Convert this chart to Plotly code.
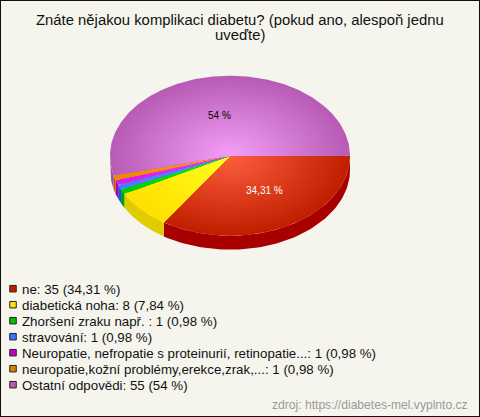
import numpy as np
import plotly.graph_objects as go

title_lines = ["Znáte nějakou komplikaci diabetu? (pokud ano, alespoň jednu", "uveďte)"]
categories = ["ne", "diabetická noha", "Zhoršení zraku např. ", "stravování",
              "Neuropatie, nefropatie s proteinurií, retinopatie...",
              "neuropatie,kožní problémy,erekce,zrak,...", "Ostatní odpovědi"]
counts = [35, 8, 1, 1, 1, 1, 55]
percents = [34.31, 7.84, 0.98, 0.98, 0.98, 0.98, 54]
percent_text = ["34,31 %", "7,84 %", "0,98 %", "0,98 %", "0,98 %", "0,98 %", "54 %"]
edge_colors = ["#c02000", "#ffe000", "#00cc00", "#4c78ff", "#d818e8", "#ee8800", "#b85cb5"]
center_colors = ["#ff6040", "#ffff20", "#20f020", "#6090ff", "#f040ff", "#ffa020", "#f5a0fa"]
side_colors = ["#a80000", "#e0cc00", "#00a000", "#2050e0", "#a000c0", "#c06000", "#a050a0"]
legend_colors = ["#c02000", "#ffe000", "#00c000", "#4070ff", "#c000d0", "#e08000", "#b85cb5"]

BG = "#f5f5ee"
CX, CY, RX, RY, DEPTH = 230, 155.7, 120, 80, 14
RINGS = 30


def hex2rgb(h):
    return np.array([int(h[i:i + 2], 16) for i in (1, 3, 5)], float)


def mix(a, b, t):
    c = hex2rgb(a) * (1 - t) + hex2rgb(b) * t
    return "rgb(%d,%d,%d)" % tuple(c.round())


fig = go.Figure()


def poly(x, y, color):
    fig.add_trace(go.Scatter(x=x, y=y, mode="lines", fill="toself", fillcolor=color,
                             line=dict(width=0, color=color), hoverinfo="skip", showlegend=False))


total = sum(percents)
edges = np.cumsum([0] + percents) / total * 2 * np.pi

# Side wall (visible front half only)
for i in range(len(percents)):
    a0, a1 = edges[i], min(edges[i + 1], np.pi)
    if a0 >= np.pi:
        continue
    t = np.linspace(a0, a1, 80)
    xs = CX + RX * np.cos(t)
    ys = CY + RY * np.sin(t)
    poly(np.r_[xs, xs[::-1]], np.r_[ys, ys[::-1] + DEPTH], side_colors[i])

# Top face with radial shading
for i in range(len(percents)):
    t = np.linspace(edges[i], edges[i + 1], max(6, int((edges[i + 1] - edges[i]) * 60)))
    for k in range(RINGS, 0, -1):
        f = k / RINGS
        poly(np.r_[CX, CX + RX * f * np.cos(t), CX],
             np.r_[CY, CY + RY * f * np.sin(t), CY],
             mix(center_colors[i], edge_colors[i], f))

# Legend markers
LEG_X, LEG_Y, LEG_STEP = 13, 289.3, 16
ly = [LEG_Y + LEG_STEP * i for i in range(len(categories))]
fig.add_trace(go.Scatter(x=[LEG_X] * len(categories), y=[v - 0.6 for v in ly], mode="markers",
                         showlegend=False, hoverinfo="skip",
                         marker=dict(symbol="square", size=6.5, color=legend_colors,
                                     line=dict(width=1, color="#222"))))

FONT = "Liberation Sans"
ann = [dict(x=240, y=20, text=title_lines[0], showarrow=False, xanchor="center", yanchor="middle",
            font=dict(family=FONT, size=14.85, color="#111")),
       dict(x=240, y=35, text=title_lines[1], showarrow=False, xanchor="center", yanchor="middle",
            font=dict(family=FONT, size=14.85, color="#111")),
       dict(x=264, y=190, text=percent_text[0], showarrow=False,
            font=dict(family=FONT, size=10, color="white")),
       dict(x=219, y=115, text=percent_text[6], showarrow=False,
            font=dict(family=FONT, size=10, color="black")),
       dict(x=470, y=404.5, text="zdroj: https://diabetes-mel.vyplnto.cz", showarrow=False,
            xanchor="right", font=dict(family=FONT, size=12.1, color="#999"))]
for name, n, p, y in zip(categories, counts, percent_text, ly):
    ann.append(dict(x=20, y=y, text=f"{name}: {n} ({p})", showarrow=False, xanchor="left",
                    font=dict(family=FONT, size=13.3, color="#111")))

fig.update_layout(
    width=480, height=417, margin=dict(l=0, r=0, t=0, b=0),
    paper_bgcolor=BG, plot_bgcolor=BG, annotations=ann,
    xaxis=dict(range=[0, 480], visible=False, fixedrange=True),
    yaxis=dict(range=[417, 0], visible=False, fixedrange=True),
    shapes=[dict(type="rect", xref="paper", yref="paper", x0=0, x1=1, y0=0, y1=1,
                 line=dict(color="#111", width=2), fillcolor="rgba(0,0,0,0)")],
)
fig.write_html("out.html", config=dict(displayModeBar=False),
               post_script="document.body.style.margin='0';document.documentElement.style.overflow='hidden';")
